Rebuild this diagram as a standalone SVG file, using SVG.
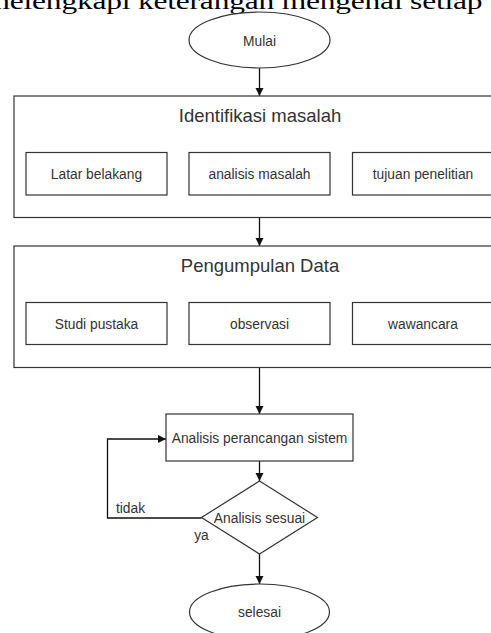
<svg xmlns="http://www.w3.org/2000/svg" width="491" height="633" viewBox="0 0 491 633">
<style>
.box{fill:#fff;stroke:#333;stroke-width:1.2}
.lbl{font-family:"Liberation Sans",Arial,sans-serif;font-size:13.8px;fill:#333;text-anchor:middle}
.ttl{font-family:"Liberation Sans",Arial,sans-serif;font-size:18.5px;fill:#333;text-anchor:middle}
.con{fill:none;stroke:#111;stroke-width:1.3}
</style>
<defs>
<marker id="ah" markerUnits="userSpaceOnUse" markerWidth="9" markerHeight="9" refX="8" refY="4" orient="auto">
<path d="M0,0 L8,4 L0,8 z" fill="#111"/>
</marker>
</defs>
<rect width="491" height="633" fill="#fff"/>
<text x="-14.5" y="12.6" transform="scale(1,0.75)" font-family="Liberation Serif,'Times New Roman',serif" font-size="31.5" fill="#000" textLength="497" lengthAdjust="spacing">melengkapi keterangan mengenai setiap</text>

<g id="connectors">
<line class="con" x1="259.5" y1="68" x2="259.5" y2="96" marker-end="url(#ah)"/>
<line class="con" x1="259.5" y1="218" x2="259.5" y2="246" marker-end="url(#ah)"/>
<line class="con" x1="259.5" y1="368" x2="259.5" y2="414" marker-end="url(#ah)"/>
<line class="con" x1="259.5" y1="461" x2="259.5" y2="481" marker-end="url(#ah)"/>
<line class="con" x1="259.5" y1="554" x2="259.5" y2="584" marker-end="url(#ah)"/>
<polyline class="con" points="201.5,518 107.5,518 107.5,439 166,439" marker-end="url(#ah)"/>
<text class="lbl" x="130.5" y="513">tidak</text>
<text class="lbl" x="201.5" y="540">ya</text>
</g>

<g id="mulai">
<ellipse class="box" cx="259.5" cy="40" rx="70.5" ry="28"/>
<text class="lbl" x="259.5" y="46">Mulai</text>
</g>

<g id="identifikasi">
<rect class="box" x="14" y="96" width="491" height="121.5"/>
<text class="ttl" x="260" y="122">Identifikasi masalah</text>
</g>
<g id="latar">
<rect class="box" x="26" y="152.5" width="141" height="42.5"/>
<text class="lbl" x="96.5" y="179">Latar belakang</text>
</g>
<g id="analisis-masalah">
<rect class="box" x="189" y="152.5" width="141" height="42.5"/>
<text class="lbl" x="259.5" y="179">analisis masalah</text>
</g>
<g id="tujuan">
<rect class="box" x="352.5" y="152.5" width="141" height="42.5"/>
<text class="lbl" x="423" y="179">tujuan penelitian</text>
</g>

<g id="pengumpulan">
<rect class="box" x="14" y="246" width="491" height="121.5"/>
<text class="ttl" x="260" y="271.5">Pengumpulan Data</text>
</g>
<g id="studi">
<rect class="box" x="26" y="302.5" width="141" height="42"/>
<text class="lbl" x="96.5" y="329">Studi pustaka</text>
</g>
<g id="observasi">
<rect class="box" x="189" y="302.5" width="141" height="42"/>
<text class="lbl" x="259.5" y="329">observasi</text>
</g>
<g id="wawancara">
<rect class="box" x="352.5" y="302.5" width="141" height="42"/>
<text class="lbl" x="423" y="329">wawancara</text>
</g>

<g id="analisis-perancangan">
<rect class="box" x="166" y="414" width="187" height="47"/>
<text class="lbl" x="259.5" y="442.5">Analisis perancangan sistem</text>
</g>

<g id="analisis-sesuai">
<polygon class="box" points="259.5,481 317.5,517.5 259.5,554 201.5,517.5"/>
<text class="lbl" x="259.5" y="522.5">Analisis sesuai</text>
</g>

<g id="selesai">
<ellipse class="box" cx="259.5" cy="612" rx="70" ry="28"/>
<text class="lbl" x="259.5" y="616.5">selesai</text>
</g>
</svg>
